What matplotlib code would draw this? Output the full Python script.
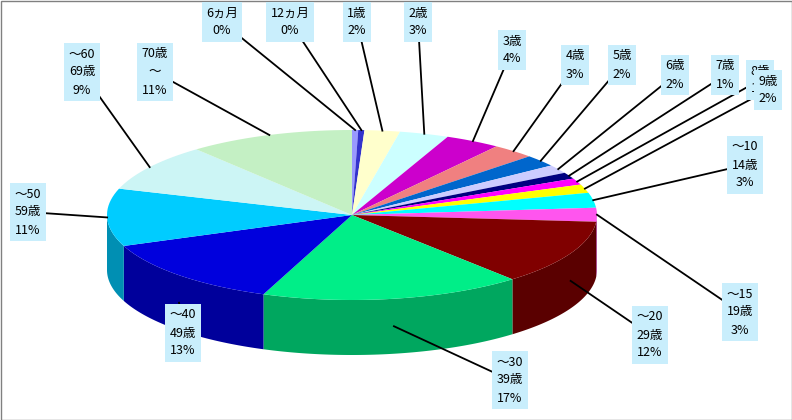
import numpy as np
import matplotlib.pyplot as plt
from matplotlib.patches import Polygon, Rectangle
import matplotlib.colors as mcolors

plt.rcParams['font.family'] = ['Noto Sans CJK JP', 'DejaVu Sans']

# data
labels = ["6ヵ月\n0%", "12ヵ月\n0%", "1歳\n2%", "2歳\n3%", "3歳\n4%", "4歳\n3%",
          "5歳\n2%", "6歳\n2%", "7歳\n1%", "8歳\n1%", "9歳\n2%", "～10\n14歳\n3%",
          "～15\n19歳\n3%", "～20\n29歳\n12%", "～30\n39歳\n17%", "～40\n49歳\n13%",
          "～50\n59歳\n11%", "～60\n69歳\n9%", "70歳\n～\n11%"]
values = [0.4, 0.4, 2.3, 3.2, 3.6, 2.8, 2.2, 1.6, 1.2, 1.2, 1.6, 2.8,
          2.6, 12.2, 17.0, 13.0, 10.8, 8.9, 10.8]
colors = ["#9999ff", "#3333cc", "#ffffcc", "#ccffff", "#cc00cc", "#f08080",
          "#0066cc", "#ccccff", "#000080", "#ff00ff", "#ffff00", "#00ffff",
          "#ff55ee", "#800000", "#00ee88", "#0000dd", "#00ccff", "#ccf5f5", "#c4f0c4"]
# label box centers (pixels)
label_pos = [(222, 22), (290, 22), (357, 22), (418, 22), (512, 50), (575, 65),
             (622, 65), (675, 75), (725, 75), (760, 80), (768, 90), (745, 165),
             (740, 312), (650, 335), (510, 380), (183, 333), (28, 212), (82, 72), (155, 72)]

W, H = 792, 420
cx, cy, rx, ry, depth = 352, 215, 245, 85, 55

fig = plt.figure(figsize=(W / 100, H / 100), dpi=100)
ax = fig.add_axes([0, 0, 1, 1])
ax.set_xlim(0, W)
ax.set_ylim(H, 0)
ax.axis('off')
ax.add_patch(Rectangle((0.5, 0.5), W - 1, H - 1, fill=False, ec='#808080', lw=1))


def rim(t, dy=0.0):
    return cx + rx * np.sin(t), cy - ry * np.cos(t) + dy


fracs = np.array(values) / sum(values)
edges = np.concatenate([[0], np.cumsum(fracs)]) * 2 * np.pi

# sides (front half only)
for i in range(len(values)):
    a, b = max(edges[i], np.pi / 2), min(edges[i + 1], 3 * np.pi / 2)
    if b <= a:
        continue
    t = np.linspace(a, b, 60)
    xs, ys = rim(t)
    xb, yb = rim(t[::-1], depth)
    pts = np.column_stack([np.concatenate([xs, xb]), np.concatenate([ys, yb])])
    dark = np.array(mcolors.to_rgb(colors[i])) * 0.7
    ax.add_patch(Polygon(pts, fc=dark, ec='none', zorder=2))

# top
for i in range(len(values)):
    t = np.linspace(edges[i], edges[i + 1], max(3, int(200 * fracs[i])))
    xs, ys = rim(t)
    pts = np.column_stack([np.concatenate([[cx], xs]), np.concatenate([[cy], ys])])
    ax.add_patch(Polygon(pts, fc=colors[i], ec='none', zorder=3))

# labels and leader lines
for i, lab in enumerate(labels):
    mid = (edges[i] + edges[i + 1]) / 2
    dy = depth * 0.5 if np.cos(mid) < -0.3 else 0
    px, py = rim(mid, dy)
    lx, ly = label_pos[i]
    ax.plot([lx, px], [ly, py], color='black', lw=1.3, zorder=4)
    ax.text(lx, ly, lab, ha='center', va='center', fontsize=9, linespacing=1.5,
            zorder=5, bbox=dict(boxstyle='square,pad=0.35', fc='#c9eefc', ec='none'))

fig.savefig('out.png', dpi=100)
